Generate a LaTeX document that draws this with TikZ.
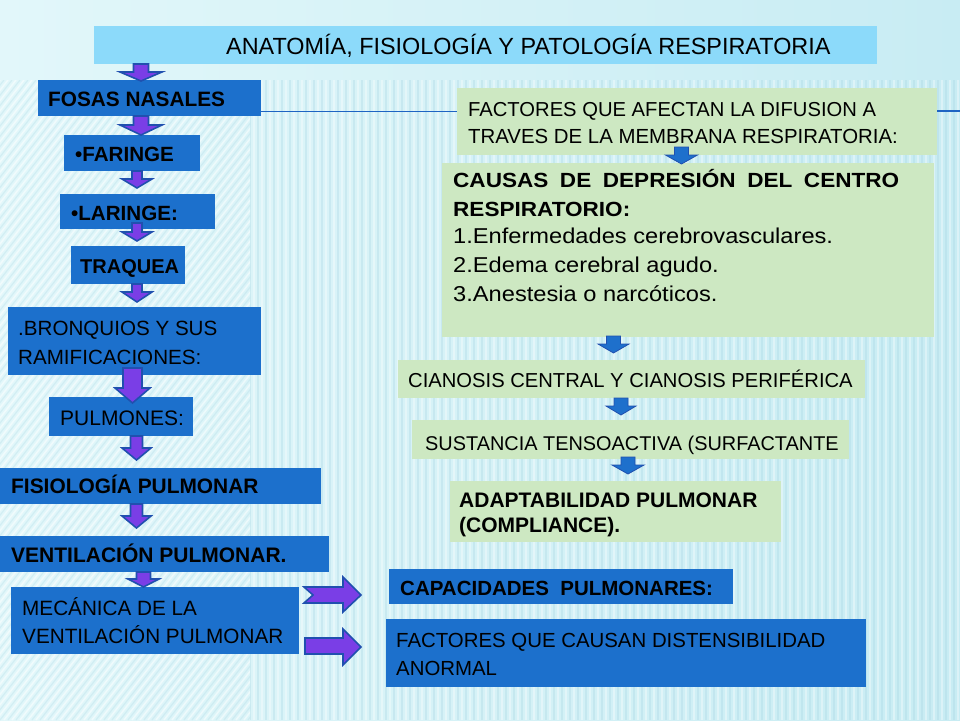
\documentclass[tikz,border=0pt]{standalone}
\usepackage{fontspec}
\setmainfont{Liberation Sans}
\newfontfamily\widefont[FakeStretch=1.1]{Liberation Sans}
\definecolor{bgA}{RGB}{226,247,250}
\definecolor{bgB}{RGB}{200,236,243}
\definecolor{stripe}{RGB}{165,212,226}
\definecolor{boxblue}{RGB}{28,112,204}
\definecolor{boxgreen}{RGB}{205,232,194}
\definecolor{titleblue}{RGB}{140,218,250}
\definecolor{arrpurple}{RGB}{122,62,230}
\definecolor{arredge}{RGB}{32,80,175}
\definecolor{arrblue}{RGB}{30,112,204}
\definecolor{linec}{RGB}{30,100,195}
\tikzset{
  bluebox/.style={fill=boxblue, draw=none, anchor=north west, inner sep=0pt},
  greenbox/.style={fill=boxgreen, draw=none, anchor=north west, inner sep=0pt},
  titlebox/.style={fill=titleblue, draw=none, anchor=north west, inner sep=0pt},
  txt/.style={anchor=base west, inner sep=0pt, text=black},
  parrow/.style={fill=arrpurple, draw=arredge, line width=1.6pt, line join=miter},
  barrow/.style={fill=arrblue, draw=arredge, line width=0.8pt, line join=miter},
  conn/.style={draw=linec, line width=1.3pt}
}
% down block arrow: style, cx, ytop, yheadbase, ytip, head half width, shaft half width
\newcommand\dnarrow[7]{%
  \draw[#1] ({#2-#7},#3) -- ({#2-#7},#4) -- ({#2-#6},#4) -- (#2,#5) -- ({#2+#6},#4) -- ({#2+#7},#4) -- ({#2+#7},#3) -- cycle;}
\begin{document}
\begin{tikzpicture}[x=1pt,y=-1pt]
\useasboundingbox (0,0) rectangle (960,720);
% background
\shade[left color=bgA, right color=bgB] (0,0) rectangle (960,720);
\begin{scope}
  \clip (250,80) rectangle (960,720);
  \foreach \i in {250,258,...,960} \draw[stripe, opacity=0.3, line width=1.4pt] (\i,80) -- (\i,720);
  \foreach \i in {254,262,...,960} \draw[white, opacity=0.35, line width=1.2pt] (\i,80) -- (\i,720);
\end{scope}
\begin{scope}
  \clip (0,80) rectangle (250,720);
  \foreach \i in {-700,-692,...,260} \draw[white, opacity=0.5, line width=1.5pt] (\i,720) -- ({\i+500},80);
  \foreach \i in {-696,-688,...,260} \draw[stripe, opacity=0.25, line width=1.2pt] (\i,720) -- ({\i+500},80);
\end{scope}

% boxes
\node[titlebox, minimum width=783pt, minimum height=38pt] (title) at (94,26) {};
\node[bluebox, minimum width=223pt, minimum height=36pt] (fosas) at (38,80) {};
\node[bluebox, minimum width=136pt, minimum height=36pt] (faringe) at (64,135) {};
\node[bluebox, minimum width=155pt, minimum height=35pt] (laringe) at (60,194) {};
\node[bluebox, minimum width=114pt, minimum height=38pt] (traquea) at (71,246) {};
\node[bluebox, minimum width=253pt, minimum height=68pt] (bronq) at (8,307) {};
\node[bluebox, minimum width=144pt, minimum height=39pt] (pulm) at (49,397) {};
\node[bluebox, minimum width=321pt, minimum height=36pt] (fisio) at (0,468) {};
\node[bluebox, minimum width=329pt, minimum height=36pt] (venti) at (0,536) {};
\node[bluebox, minimum width=288pt, minimum height=67pt] (mecan) at (11,587) {};
\node[bluebox, minimum width=344pt, minimum height=35pt] (capac) at (389,569) {};
\node[bluebox, minimum width=480pt, minimum height=68pt] (distens) at (386,619) {};
\node[greenbox, minimum width=480pt, minimum height=67pt] (facta) at (457,88) {};
\node[greenbox, minimum width=492pt, minimum height=174pt] (causas) at (442,163) {};
\node[greenbox, minimum width=467pt, minimum height=38pt] (ciano) at (398,360) {};
\node[greenbox, minimum width=437pt, minimum height=39pt] (sustan) at (412,420) {};
\node[greenbox, minimum width=331pt, minimum height=61pt] (adapt) at (450,481) {};

% connector line
\coordinate (redge) at (960,111);
\draw[conn] ([yshift=5pt]fosas.south east) -- ([yshift=5pt]fosas.south east -| facta.west);
\draw[conn] (facta.east |- redge) -- (redge);

% purple down arrows (left column)
\dnarrow{parrow}{141}{64}{72}{81}{21}{7.5}
\dnarrow{parrow}{141}{116}{125}{135}{21}{7.5}
\dnarrow{parrow}{137}{171}{179}{188}{15}{5}
\dnarrow{parrow}{137}{223}{232}{241}{15}{5}
\dnarrow{parrow}{137}{284}{292}{302}{15}{5}
\dnarrow{parrow}{132.5}{368}{388}{403}{17.5}{9.5}
\dnarrow{parrow}{136.5}{436}{448}{460}{14.5}{6}
\dnarrow{parrow}{136.5}{504}{516}{528}{14.5}{6}
\dnarrow{parrow}{143.5}{572}{579}{587}{15.5}{7}

% purple right arrows
\draw[parrow] (304,587) -- (343,587) -- (343,577) -- (361,595) -- (343,612) -- (343,603) -- (304,603) -- (313,595) -- cycle;
\draw[parrow] (305,638) -- (343,638) -- (343,629) -- (361,647) -- (343,665) -- (343,654) -- (305,654) -- cycle;

% blue down arrows (right column)
\dnarrow{barrow}{681.5}{147}{155}{164}{16}{7}
\dnarrow{barrow}{613.5}{336}{344}{353}{15.5}{7}
\dnarrow{barrow}{621}{398}{406}{415}{15}{7}
\dnarrow{barrow}{628}{457}{465}{474}{16}{7}

% texts
\node[txt, font=\fontsize{23.4}{26}\selectfont] (tTitle) at (226,54) {ANATOMÍA, FISIOLOGÍA Y PATOLOGÍA RESPIRATORIA};
\node[txt, font=\fontsize{20.8}{24}\selectfont\bfseries] (tFosas) at (48,106) {FOSAS NASALES};
\node[txt, font=\fontsize{20.6}{24}\selectfont\bfseries] (tFar) at (75,161) {•FARINGE};
\node[txt, font=\fontsize{20.6}{24}\selectfont\bfseries] (tLar) at (71,220) {•LARINGE:};
\node[txt, font=\fontsize{20}{24}\selectfont\bfseries] (tTraq) at (80,273) {TRAQUEA};
\node[txt, font=\fontsize{20.6}{24}\selectfont] (tBr1) at (18,335) {.BRONQUIOS Y SUS};
\node[txt, font=\fontsize{20.6}{24}\selectfont] (tBr2) at (18,364) {RAMIFICACIONES:};
\node[txt, font=\fontsize{21}{24}\selectfont] (tPulm) at (60,425) {PULMONES:};
\node[txt, font=\fontsize{20.9}{24}\selectfont\bfseries] (tFisio) at (11,493) {FISIOLOGÍA PULMONAR};
\node[txt, font=\fontsize{21}{24}\selectfont\bfseries] (tVenti) at (11,562) {VENTILACIÓN PULMONAR.};
\node[txt, font=\fontsize{20.7}{24}\selectfont] (tMec1) at (22,615) {MECÁNICA DE LA};
\node[txt, font=\fontsize{20.7}{24}\selectfont] (tMec2) at (22,643) {VENTILACIÓN PULMONAR};
\node[txt, font=\fontsize{20.5}{24}\selectfont\bfseries] (tCap) at (400,595) {CAPACIDADES\ \ PULMONARES:};
\node[txt, font=\fontsize{20.4}{24}\selectfont] (tDis1) at (396,647) {FACTORES QUE CAUSAN DISTENSIBILIDAD};
\node[txt, font=\fontsize{20.4}{24}\selectfont] (tDis2) at (396,675) {ANORMAL};
\node[txt, font=\fontsize{20.2}{24}\selectfont] (tFa1) at (468,116) {FACTORES QUE AFECTAN LA DIFUSION A};
\node[txt, font=\fontsize{20.4}{24}\selectfont] (tFa2) at (468,143) {TRAVES DE LA MEMBRANA RESPIRATORIA:};
\node[txt, font=\widefont\fontsize{20.5}{24}\selectfont\bfseries] (tCa1) at (453,187) {\makebox[446pt][s]{CAUSAS\hfill DE\hfill DEPRESIÓN\hfill DEL\hfill CENTRO}};
\node[txt, font=\widefont\fontsize{20.5}{24}\selectfont\bfseries] (tCa2) at (453,216) {RESPIRATORIO:};
\node[txt, font=\widefont\fontsize{21.5}{24}\selectfont] (tCa3) at (453,243) {1.Enfermedades cerebrovasculares.};
\node[txt, font=\widefont\fontsize{21.5}{24}\selectfont] (tCa4) at (453,272) {2.Edema cerebral agudo.};
\node[txt, font=\widefont\fontsize{21.5}{24}\selectfont] (tCa5) at (453,301) {3.Anestesia o narcóticos.};
\node[txt, font=\fontsize{20.2}{24}\selectfont] (tCian) at (408,387) {CIANOSIS CENTRAL Y CIANOSIS PERIFÉRICA};
\node[txt, font=\fontsize{19.9}{24}\selectfont] (tSust) at (425,450) {SUSTANCIA TENSOACTIVA (SURFACTANTE};
\node[txt, font=\fontsize{21}{24}\selectfont\bfseries] (tAd1) at (459,507) {ADAPTABILIDAD PULMONAR};
\node[txt, font=\fontsize{21}{24}\selectfont\bfseries] (tAd2) at (459,532) {(COMPLIANCE).};
\end{tikzpicture}
\end{document}
